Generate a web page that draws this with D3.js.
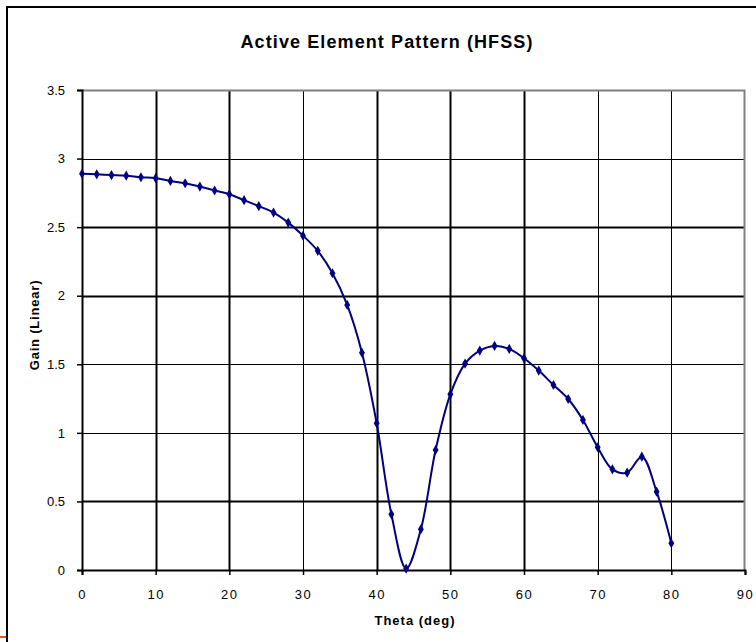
<!DOCTYPE html>
<html>
<head>
<meta charset="utf-8">
<script src="https://cdn.jsdelivr.net/npm/d3@7"></script>
<style>
  body { margin: 0; background: #fff; }
  svg { display: block; font-family: "Liberation Sans", Arial, sans-serif; }
</style>
</head>
<body>
<div id="chart"></div>
<script>
// Gain vs theta
const theta = [0, 2, 4, 6, 8, 10, 12, 14, 16, 18, 20, 22, 24, 26, 28, 30, 32, 34, 36, 38,
  40, 42, 44, 46, 48, 50, 52, 54, 56, 58, 60, 62, 64, 66, 68, 70, 72, 74, 76, 78, 80];
const gain = [2.89, 2.885, 2.88, 2.875, 2.864, 2.857, 2.837, 2.82, 2.796, 2.767, 2.74,
  2.697, 2.653, 2.606, 2.533, 2.438, 2.327, 2.164, 1.933, 1.585, 1.07, 0.406, 0.01,
  0.297, 0.875, 1.281, 1.505, 1.60, 1.634, 1.612, 1.544, 1.454, 1.349, 1.247, 1.094,
  0.895, 0.734, 0.71, 0.826, 0.571, 0.195];
const xTicks = [0, 10, 20, 30, 40, 50, 60, 70, 80, 90];
const yTicks = [0, 0.5, 1, 1.5, 2, 2.5, 3, 3.5];

const W = 756, H = 642;
const margin = { top: 90, right: 11, bottom: 72, left: 82 };
const width = W - margin.left - margin.right;
const height = H - margin.top - margin.bottom;

const svg = d3.select("#chart").append("svg")
  .attr("width", W)
  .attr("height", H);

// outer chart frame
svg.append("path")
  .attr("d", `M7,${H + 5} L7,7 L${W + 5},7`)
  .attr("fill", "none")
  .attr("stroke", "#000")
  .attr("stroke-width", 2);
svg.append("line")
  .attr("x1", 0).attr("x2", 6).attr("y1", 637).attr("y2", 637)
  .attr("stroke", "#e8541e").attr("stroke-width", 2);

const g = svg.append("g").attr("transform", `translate(${margin.left},${margin.top})`);

const x = d3.scaleLinear().domain([0, 90]).range([0, width]);
const y = d3.scaleLinear().domain([0, 3.5]).range([height, 0]);

// grid (the scanned original shows some lines heavier than others)
const thickX = [10, 20, 40, 50, 60];
const thickY = [0.5, 2, 2.5];
g.append("g").selectAll("line")
  .data(xTicks.filter(d => d > 0 && d < 90))
  .join("line")
  .attr("x1", d => Math.round(x(d)) + 0.5).attr("x2", d => Math.round(x(d)) + 0.5)
  .attr("y1", 0).attr("y2", height)
  .attr("stroke", "#000")
  .attr("stroke-width", d => thickX.includes(d) ? 2 : 1);
g.append("g").selectAll("line")
  .data(yTicks.filter(d => d > 0 && d < 3.5))
  .join("line")
  .attr("x1", 0).attr("x2", width)
  .attr("y1", d => Math.round(y(d)) + 0.5).attr("y2", d => Math.round(y(d)) + 0.5)
  .attr("stroke", "#000")
  .attr("stroke-width", d => thickY.includes(d) ? 2 : 1);

// plot area border (top / right grey)
g.append("path")
  .attr("d", `M0,0.5 L${width - 0.5},0.5 L${width - 0.5},${height}`)
  .attr("fill", "none")
  .attr("stroke", "#808080")
  .attr("stroke-width", 2);

// axes
const xAxis = g.append("g")
  .attr("transform", `translate(0,${height})`)
  .call(d3.axisBottom(x).tickValues(xTicks).tickSize(5).tickPadding(15).tickFormat(d3.format("d")));
const yAxis = g.append("g")
  .call(d3.axisLeft(y).tickValues(yTicks).tickSize(5).tickPadding(12).tickFormat(d => d));

[xAxis, yAxis].forEach(a => {
  a.select(".domain").attr("stroke", "#000").attr("stroke-width", 2);
  a.selectAll(".tick line").attr("stroke", "#000").attr("stroke-width", 1.5);
  a.selectAll(".tick text")
    .attr("fill", "#000")
    .attr("font-size", "13px")
    .attr("font-family", "\"Liberation Sans\", Arial, sans-serif");
});
xAxis.selectAll(".tick text").attr("letter-spacing", "1.5px");

// curve
const pts = theta.map((t, i) => [t, gain[i]]);
const line = d3.line()
  .x(d => x(d[0]))
  .y(d => y(d[1]))
  .curve(d3.curveCatmullRom.alpha(0.5));

g.append("path")
  .datum(pts)
  .attr("d", line)
  .attr("fill", "none")
  .attr("stroke", "#000080")
  .attr("stroke-width", 2);

g.append("g").selectAll("path")
  .data(pts)
  .join("path")
  .attr("d", d3.symbol().type(d3.symbolDiamond).size(30))
  .attr("transform", d => `translate(${x(d[0])},${y(d[1])})`)
  .attr("fill", "#000080");

// titles
svg.append("text")
  .attr("x", 387).attr("y", 48)
  .attr("text-anchor", "middle")
  .attr("font-size", "18px")
  .attr("font-weight", "bold")
  .attr("letter-spacing", "1.1px")
  .text("Active Element Pattern (HFSS)");

svg.append("text")
  .attr("x", 415).attr("y", 625)
  .attr("text-anchor", "middle")
  .attr("font-size", "13px")
  .attr("font-weight", "bold")
  .attr("letter-spacing", "1px")
  .text("Theta (deg)");

svg.append("text")
  .attr("transform", `translate(39,${margin.top + height / 2 - 5}) rotate(-90)`)
  .attr("text-anchor", "middle")
  .attr("font-size", "13px")
  .attr("font-weight", "bold")
  .attr("letter-spacing", "0.8px")
  .text("Gain (Linear)");
</script>
</body>
</html>
